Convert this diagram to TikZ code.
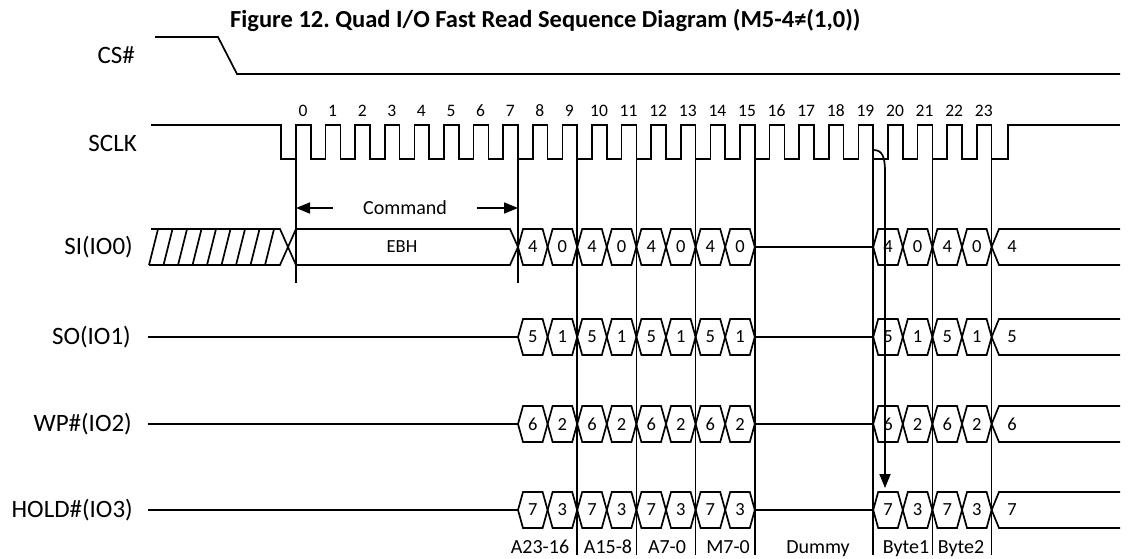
\documentclass[tikz,border=0pt]{standalone}
\usepackage{fontspec}
\setmainfont{Carlito}
\usetikzlibrary{arrows.meta,positioning}

\begin{document}
\frenchspacing
\begin{tikzpicture}[
        x=1pt,
        y=-1pt,
        wave/.style={
            line width=1.7pt,
            line join=miter,
        },
        sig/.style={
            anchor=east,
            inner sep=0pt,
            font=\fontsize{25}{28}\selectfont,
        },
        clknum/.style={
            anchor=base,
            inner sep=0pt,
            font=\fontsize{17.5}{20}\selectfont,
        },
        bitval/.style={
            inner sep=0pt,
            font=\fontsize{18.5}{20}\selectfont,
        },
        phase/.style={
            anchor=base,
            inner sep=0pt,
            font=\fontsize{20}{22}\selectfont,
        },
        arr/.style={
            line width=1.7pt,
            -{Triangle[length=14pt,width=11pt]},
        },
    ]
    \useasboundingbox (0,0) rectangle (1132,559);

    \node[font=\bfseries\fontsize{24.5}{28}\selectfont, anchor=base west, inner sep=0pt] (title) at (230,27.5)
        {Figure 12. Quad I/O Fast Read Sequence Diagram (M5-4≠(1,0))};

    \node[sig] (cs) at (135,55) {CS\#};
    \node[sig] (sclk) at (137,143) {SCLK};
    \node[sig] (si) at (133,247) {SI(IO0)};
    \node[sig] (so) at (131,337) {SO(IO1)};
    \node[sig] (wp) at (132,424) {WP\#(IO2)};
    \node[sig] (hold) at (133,510) {HOLD\#(IO3)};

    % chip select and clock
    \draw[wave] (155,37) -- (218,37) -- (237,74) -- (1120,74);
    \draw[wave] (151,125) -- (281,125) -- (281,159) -- (296,159)
        \foreach \n in {0,...,23} {
            -- ({296+29.6*\n},125) -- ({310.8+29.6*\n},125)
            -- ({310.8+29.6*\n},159) -- ({325.6+29.6*\n},159)
        } -- (1008,159) -- (1008,125) -- (1120,125);
    \foreach \n in {0,...,23}
        \node[clknum] (n\n) at ({303+29.6*\n},117) {\n};

    % phase boundaries
    \draw[wave] (296,125) -- (296,283);
    \draw[wave] (518,125) -- (518,283);
    \foreach \x in {577.2,636.4,695.6,754.8,873.2,932.4,991.6}
        \draw[wave] (\x,125) -- (\x,555);

    % command phase on SI
    \draw[wave] (151,229) -- (280,229) -- (296,265);
    \draw[wave] (149,265) -- (280,265) -- (296,229);
    \foreach \k in {0,...,8}
        \draw[wave] ({149+14.5*\k},265) -- ({158+14.5*\k},229);
    \draw[wave] (296,229) -- (510,229) -- (518,247) -- (510,265) -- (296,265);
    \node[bitval] (ebh) at (402,247) {EBH};

    \coordinate (cmdl) at (296,208);
    \coordinate (cmdr) at (518,208);
    \node[font=\fontsize{20}{22}\selectfont, inner ysep=0pt, inner xsep=30pt] (cmd) at (405,208) {Command};
    \draw[arr] (cmd.west) -- (cmdl);
    \draw[arr] (cmd.east) -- (cmdr);

    % quad data lanes
    \foreach \m/\hi/\lo [count=\r] in {247/4/0, 337/5/1, 424/6/2, 510/7/3} {
        \ifnum\r>1
            \draw[wave] (148,\m) -- (518,\m);
        \fi
        \draw[wave] (754.8,\m) -- (873.2,\m);
        \foreach \k in {0,...,7} {
            \pgfmathsetmacro\a{518+29.6*\k}
            \pgfmathtruncatemacro\odd{mod(\k,2)}
            \draw[wave] (\a,\m) -- (\a+5,\m-18) -- (\a+24.6,\m-18) -- (\a+29.6,\m)
                -- (\a+24.6,\m+18) -- (\a+5,\m+18) -- cycle;
            \node[bitval] (a\r-\k) at (\a+14.8,\m) {\ifnum\odd=0 \hi\else\lo\fi};
        }
        \foreach \k in {0,...,3} {
            \pgfmathsetmacro\a{873.2+29.6*\k}
            \pgfmathtruncatemacro\odd{mod(\k,2)}
            \draw[wave] (\a,\m) -- (\a+5,\m-18) -- (\a+24.6,\m-18) -- (\a+29.6,\m)
                -- (\a+24.6,\m+18) -- (\a+5,\m+18) -- cycle;
            \node[bitval] (d\r-\k) at (\a+14.8,\m) {\ifnum\odd=0 \hi\else\lo\fi};
        }
        \draw[wave] (991.6,\m) -- (999,\m-18) -- (1120,\m-18);
        \draw[wave] (991.6,\m) -- (999,\m+18) -- (1120,\m+18);
        \node[bitval] (t\r) at (1012,\m) {\hi};
    }

    % output turnaround
    \coordinate (c19) at (873.2,150);
    \coordinate (h19) at (885,488);
    \draw[arr] (c19) .. controls (882,150) and (885,156) .. (885,172) -- (h19);

    \node[phase] (a2316) at (540,553) {A23-16};
    \node[phase] (a158) at (608,553) {A15-8};
    \node[phase] (a70) at (667,553) {A7-0};
    \node[phase] (m70) at (728,553) {M7-0};
    \node[phase] (dummy) at (818,553) {Dummy};
    \node[phase] (byte1) at (906,553) {Byte1};
    \node[phase] (byte2) at (961,553) {Byte2};
\end{tikzpicture}
\end{document}
